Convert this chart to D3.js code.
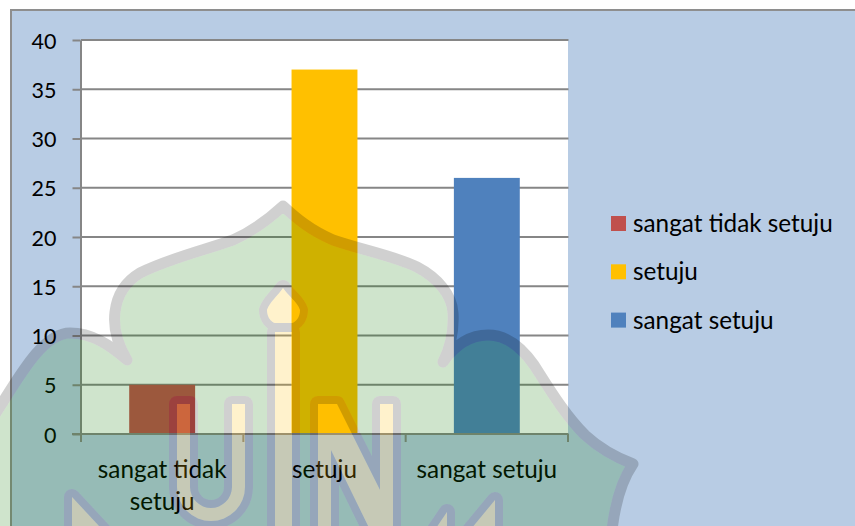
<!DOCTYPE html>
<html><head><meta charset="utf-8">
<script src="https://cdn.jsdelivr.net/npm/d3@7"></script>
<style>html,body{margin:0;padding:0;background:#fff;overflow:hidden}svg{display:block}text{font-family:Lato,Carlito,sans-serif;fill:#000}</style>
</head><body><svg id="c" width="855" height="526"></svg>
<script>
const categories = ["sangat tidak setuju", "setuju", "sangat setuju"];
const values = [5, 37, 26];
const barColors = ["#c0504d", "#ffc000", "#4f81bd"];
const yTicks = [0, 5, 10, 15, 20, 25, 30, 35, 40];
const axisLabelLines = [["sangat tidak", "setuju"], ["setuju"], ["sangat setuju"]];

const svg = d3.select("#c");
const fontSize = 24.3;
const tickFontSize = 21.5;
// chart background
svg.append("rect").attr("x", 11).attr("y", 10).attr("width", 860).attr("height", 540)
  .attr("fill", "#b8cce4").attr("stroke", "#8e8e8e").attr("stroke-width", 2);

const x = d3.scaleBand().domain(categories).range([81, 568]).paddingInner(0.594).paddingOuter(0.297);
const y = d3.scaleLinear().domain([0, 40]).range([434, 40]);
// plot area
svg.append("rect").attr("x", x.range()[0]).attr("y", y(40)).attr("width", x.range()[1] - x.range()[0]).attr("height", y(0) - y(40)).attr("fill", "#fff");

// gridlines + y axis
const yAxis = d3.axisLeft(y).tickValues(yTicks).tickSize(8).tickPadding(16).tickSizeOuter(0);
const gy = svg.append("g").attr("transform", "translate(80.5,0)").call(yAxis);
gy.selectAll(".domain").attr("stroke", "#868686").attr("stroke-width", 2);
gy.selectAll(".tick line").attr("stroke", "#868686").attr("stroke-width", 2);
gy.selectAll("text").attr("font-size", tickFontSize).attr("font-family", "Lato").attr("fill", "#000").attr("dy", "0.38em");
svg.append("g").selectAll("line").data(yTicks.filter(d => d > 0)).join("line")
  .attr("x1", 81).attr("x2", 568.5).attr("y1", d => y(d)).attr("y2", d => y(d))
  .attr("stroke", "#868686").attr("stroke-width", 2);

// bars
svg.append("g").selectAll("rect").data(categories).join("rect")
  .attr("x", d => x(d)).attr("width", x.bandwidth())
  .attr("y", (d, i) => y(values[i])).attr("height", (d, i) => y(0) - y(values[i]))
  .attr("fill", (d, i) => barColors[i]);

// x axis
const step = x.step();
const xEdges = d3.range(categories.length + 1).map(i => x.range()[0] + i * step);
svg.append("line").attr("x1", 72).attr("x2", 568.5).attr("y1", y(0)).attr("y2", y(0)).attr("stroke", "#868686").attr("stroke-width", 2);
svg.append("g").selectAll("line").data(xEdges).join("line")
  .attr("x1", d => d).attr("x2", d => d).attr("y1", y(0)).attr("y2", y(0) + 8)
  .attr("stroke", "#868686").attr("stroke-width", 2);
const xl = svg.append("g").selectAll("text").data(categories).join("text")
  .attr("text-anchor", "middle").attr("font-size", fontSize);
xl.each(function (d, i) {
  const cx = x(d) + x.bandwidth() / 2;
  d3.select(this).selectAll("tspan").data(axisLabelLines[i]).join("tspan")
    .attr("x", cx).attr("y", (l, j) => 478 + j * 32).text(l => l);
});

// legend
const legend = svg.append("g").selectAll("g").data(categories).join("g")
  .attr("transform", (d, i) => `translate(611,${216 + i * 48.3})`);
legend.append("rect").attr("width", 15).attr("height", 15).attr("fill", (d, i) => barColors[i]);
legend.append("text").attr("x", 22).attr("y", 16).attr("font-size", fontSize).text(d => d);

// background watermark (decorative, drawn over the chart)
const dome = "M-10,422 C15,385 40,333 70,333 C92,333 110,345 127,360 C118,345 113,328 115,312 C117,295 125,282 140,273 C170,258 205,250 233,240 C255,230 270,218 283,206 C296,218 310,230 333,240 C362,250 395,256 417,267 C438,278 452,295 453,313 C454,330 450,348 443,362 C455,345 470,335 488,335 C505,335 520,345 534,365 C550,390 565,415 585,435 C598,447 615,457 633,464 C622,480 614,505 611,540 L-10,540 Z";
const bulb = "M283,288 C288,296 297,301 300,310 C300,317 296,322 292,323 L275,323 C271,322 267,317 267,310 C270,301 278,296 283,288 Z";
const stem = "M275,332 L292,332 L292,540 L275,540 Z";
const letterU = "M177,404 L190,404 L190,487 A21,21 0 0 0 232,487 L232,404 L245,404 L245,487 A34,34 0 0 1 177,487 Z";
const letterN = "M318,404 L337,404 L380,490 L380,404 L393,404 L393,540 L375,540 L331,450 L331,540 L318,540 Z";
const flourishes = ["M72,497 L112,540 L72,540 Z", "M495,500 L462,540 L495,540 Z", "M447,512 L428,540 L447,540 Z"];
const shapes = [bulb, stem, letterU, letterN, ...flourishes];

const defs = svg.append("defs");
const mGreen = defs.append("mask").attr("id", "mGreen").attr("maskUnits", "userSpaceOnUse")
  .attr("x", -20).attr("y", 0).attr("width", 900).attr("height", 560);
mGreen.append("rect").attr("x", -20).attr("y", 0).attr("width", 900).attr("height", 560).attr("fill", "#fff");
mGreen.append("path").attr("d", dome).attr("fill", "none").attr("stroke", "#000").attr("stroke-width", 11).attr("stroke-linejoin", "round");
mGreen.selectAll(".s").data(shapes).join("path").attr("class", "s").attr("d", d => d)
  .attr("fill", "#000").attr("stroke", "#000").attr("stroke-width", 16).attr("stroke-linejoin", "round");

const mRing = defs.append("mask").attr("id", "mRing").attr("maskUnits", "userSpaceOnUse")
  .attr("x", -20).attr("y", 0).attr("width", 900).attr("height", 560);
mRing.append("rect").attr("x", -20).attr("y", 0).attr("width", 900).attr("height", 560).attr("fill", "#fff");
mRing.selectAll(".s").data(shapes).join("path").attr("class", "s").attr("d", d => d).attr("fill", "#000");

const wm = svg.append("g").attr("pointer-events", "none");
wm.append("path").attr("d", dome).attr("fill", "rgb(15,120,0)").attr("fill-opacity", 0.2).attr("mask", "url(#mGreen)");
const ringGroup = wm.append("g").attr("opacity", 0.18).attr("mask", "url(#mRing)");
ringGroup.append("path").attr("d", dome).attr("fill", "none").attr("stroke", "#000").attr("stroke-width", 11).attr("stroke-linejoin", "round");
ringGroup.selectAll(".s").data(shapes).join("path").attr("class", "s").attr("d", d => d)
  .attr("fill", "none").attr("stroke", "#000").attr("stroke-width", 16).attr("stroke-linejoin", "round");
wm.selectAll(".y").data(shapes).join("path").attr("class", "y").attr("d", d => d)
  .attr("fill", "rgb(255,192,0)").attr("fill-opacity", 0.2);
</script></body></html>
